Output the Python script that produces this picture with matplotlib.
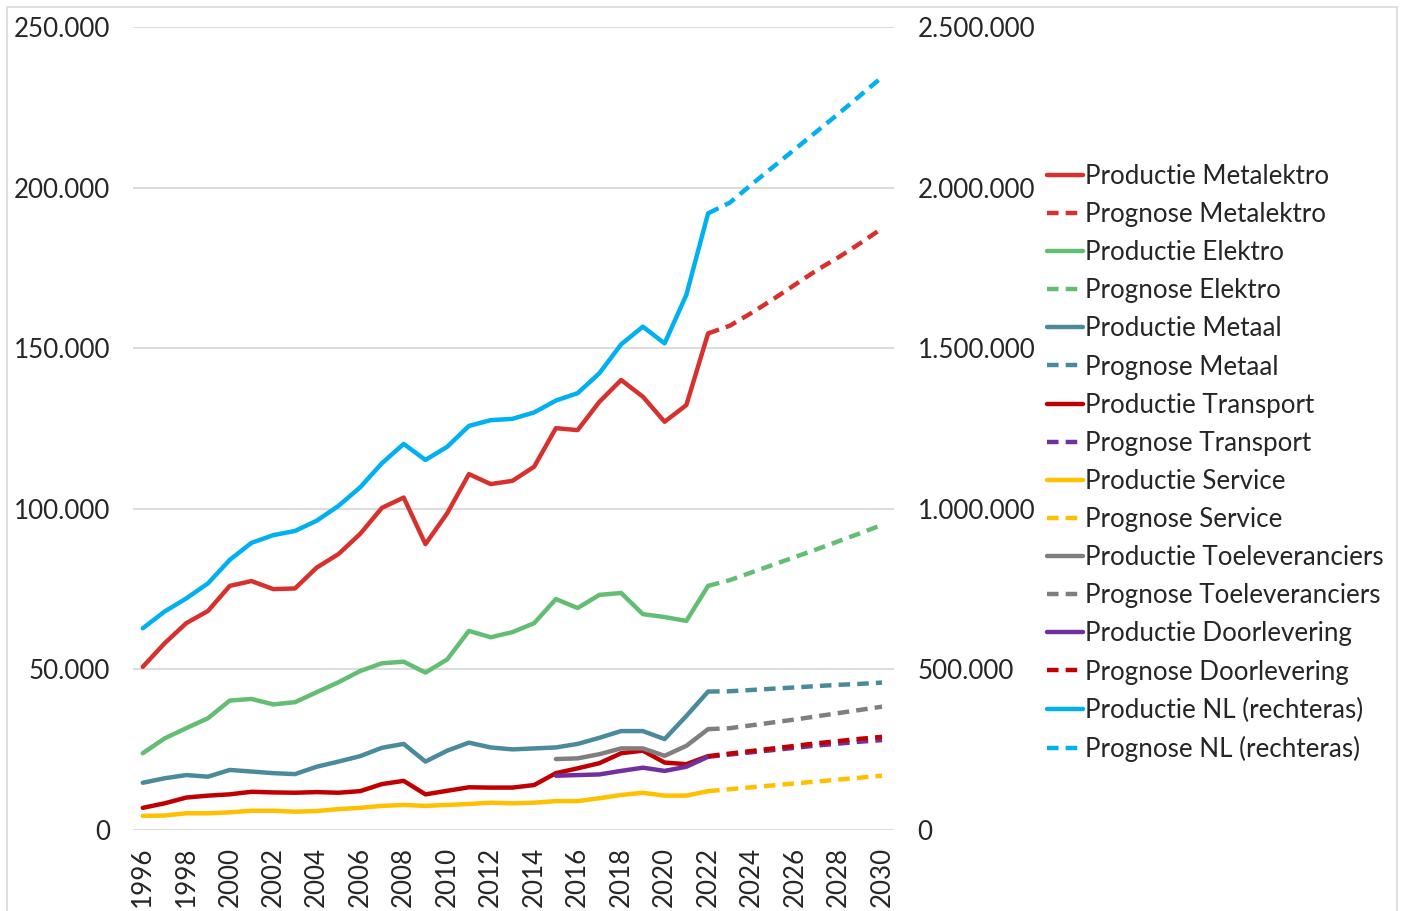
import matplotlib.pyplot as plt
from matplotlib.patches import Rectangle
from matplotlib.ticker import FuncFormatter

years = list(range(1996, 2023))
prog_years = list(range(2022, 2031))
sub_years = list(range(2015, 2023))

metalektro = [50800, 58100, 64400, 68200, 76000, 77500, 75000, 75200, 81700, 85900,
              92200, 100300, 103500, 89000, 98600, 110800, 107700, 108700, 113100,
              125100, 124500, 133300, 140100, 134900, 127100, 132300, 154600]
metalektro_prog = [154600, 157000, 161000, 165300, 169800, 174300, 178300, 182700, 187300]

elektro = [23900, 28500, 31700, 34800, 40300, 40800, 39100, 39800, 42900, 46000,
           49500, 51900, 52400, 49000, 53100, 62000, 60000, 61600, 64400,
           71900, 69100, 73200, 73800, 67200, 66300, 65100, 76000]
elektro_prog = [76000, 77800, 80200, 82600, 85000, 87400, 89900, 92400, 95000]

metaal = [14700, 16100, 17100, 16600, 18700, 18200, 17700, 17400, 19700, 21300,
          23000, 25600, 26800, 21300, 24700, 27200, 25700, 25100, 25400,
          25700, 26800, 28700, 30800, 30800, 28300, 35500, 43100]
metaal_prog = [43100, 43200, 43600, 44000, 44400, 44800, 45200, 45500, 45900]

transport = [6900, 8300, 10100, 10700, 11100, 11900, 11700, 11600, 11800, 11600,
             12100, 14300, 15300, 11100, 12200, 13300, 13200, 13200, 14000,
             17700, 19200, 20800, 23900, 24700, 21000, 20500, 23000]
transport_prog = [22800, 23500, 24200, 24900, 25600, 26300, 26900, 27500, 28000]

service = [4400, 4500, 5200, 5200, 5500, 6000, 6000, 5700, 5900, 6500,
           6900, 7500, 7800, 7500, 7800, 8100, 8500, 8300, 8500,
           9000, 9000, 9900, 10900, 11600, 10700, 10700, 12100]
service_prog = [12100, 12700, 13300, 13900, 14500, 15100, 15700, 16300, 16900]

toelev = [22100, 22300, 23600, 25400, 25400, 23100, 26200, 31400]
toelev_prog = [31400, 31700, 32600, 33500, 34400, 35400, 36400, 37400, 38400]

doorlev = [16900, 17100, 17300, 18400, 19400, 18400, 19700, 22800]
doorlev_prog = [23000, 23800, 24600, 25400, 26200, 27000, 27700, 28400, 29000]

nl = [628000, 680000, 721000, 768000, 841000, 894000, 918000, 931000, 963000, 1009000,
      1067000, 1142000, 1202000, 1152000, 1193000, 1258000, 1276000, 1280000, 1300000,
      1337000, 1360000, 1422000, 1512000, 1567000, 1515000, 1666000, 1920000]
nl_prog = [1920000, 1953000, 2010000, 2065000, 2120000, 2175000, 2230000, 2287000, 2344000]

c_metalektro = '#D7312E'
c_elektro = '#63BE74'
c_metaal = '#4A8B9B'
c_transport = '#C00000'
c_service = '#FFC000'
c_toelev = '#7F7F7F'
c_doorlev = '#7030A0'
c_nl = '#00B0F0'

plt.rcParams['font.family'] = ['Lato', 'DejaVu Sans']
txt = '#262626'
fs = 18.7

fig = plt.figure(figsize=(14.05, 9.11), dpi=100)
fig.patches.append(Rectangle((7 / 1405, -0.01), 1390 / 1405, 1.01 - 7 / 911,
                             transform=fig.transFigure, fill=False,
                             edgecolor='#d9d9d9', linewidth=1.2))
ax = fig.add_axes([133 / 1405, 1 - 830 / 911, 761 / 1405, 803 / 911])
ax2 = ax.twinx()

lw = 3.2
dash = (2.6, 1.6)
lines = []


def solid(a, x, y, c, label):
    ln, = a.plot(x, y, color=c, lw=lw, label=label, solid_capstyle='round',
                 solid_joinstyle='round')
    lines.append(ln)


def dashed(a, x, y, c, label):
    ln, = a.plot(x, y, color=c, lw=lw, label=label, dashes=dash,
                 dash_capstyle='butt')
    lines.append(ln)


solid(ax, years, metalektro, c_metalektro, 'Productie Metalektro')
dashed(ax, prog_years, metalektro_prog, c_metalektro, 'Prognose Metalektro')
solid(ax, years, elektro, c_elektro, 'Productie Elektro')
dashed(ax, prog_years, elektro_prog, c_elektro, 'Prognose Elektro')
solid(ax, years, metaal, c_metaal, 'Productie Metaal')
dashed(ax, prog_years, metaal_prog, c_metaal, 'Prognose Metaal')
solid(ax, years, transport, c_transport, 'Productie Transport')
dashed(ax, prog_years, transport_prog, c_doorlev, 'Prognose Transport')
solid(ax, years, service, c_service, 'Productie Service')
dashed(ax, prog_years, service_prog, c_service, 'Prognose Service')
solid(ax, sub_years, toelev, c_toelev, 'Productie Toeleveranciers')
dashed(ax, prog_years, toelev_prog, c_toelev, 'Prognose Toeleveranciers')
solid(ax, sub_years, doorlev, c_doorlev, 'Productie Doorlevering')
dashed(ax, prog_years, doorlev_prog, c_transport, 'Prognose Doorlevering')
solid(ax2, years, nl, c_nl, 'Productie NL (rechteras)')
dashed(ax2, prog_years, nl_prog, c_nl, 'Prognose NL (rechteras)')

dots = FuncFormatter(lambda v, p: f'{int(v):,}'.replace(',', '.'))

ax.set_xlim(1995.55, 2030.55)
ax.set_ylim(0, 250000)
ax2.set_ylim(0, 2500000)
ax.set_yticks(range(0, 250001, 50000))
ax2.set_yticks(range(0, 2500001, 500000))
ax.yaxis.set_major_formatter(dots)
ax2.yaxis.set_major_formatter(dots)
ax.set_xticks(range(1996, 2031, 2))
ax.tick_params(axis='x', labelrotation=90, length=0, pad=12, labelsize=fs, labelcolor=txt)
ax.tick_params(axis='y', length=0, pad=16.5, labelsize=fs, labelcolor=txt)
ax2.tick_params(axis='y', length=0, pad=17, labelsize=fs, labelcolor=txt)
ax.grid(axis='y', color='#d9d9d9', lw=1.3)
ax.set_axisbelow(True)
for a in (ax, ax2):
    for s in a.spines.values():
        s.set_visible(False)

fig.legend(handles=lines, loc='upper left', bbox_to_anchor=(1047 / 1405, 1 - 164 / 911),
           frameon=False, fontsize=fs, labelcolor=txt, handlelength=1.4,
           handletextpad=0.05, labelspacing=0.505, borderpad=0, borderaxespad=0)

fig.savefig('out.png', dpi=100, facecolor='white')
